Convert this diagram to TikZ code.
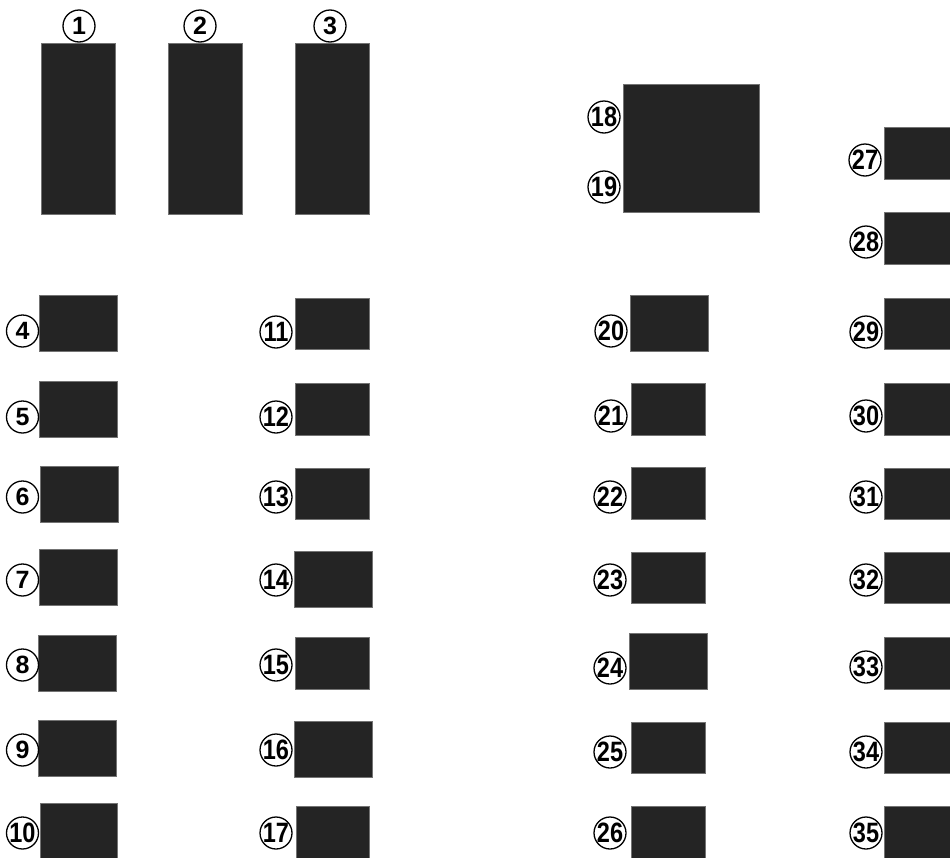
\documentclass[tikz,border=0pt]{standalone}
\usepackage{graphicx}
\usepackage{fontspec}
\setmainfont{Liberation Sans}
\tikzset{
  blk/.style={fill=black!86, draw=black!55, line width=0.6pt, inner sep=0pt, outer sep=0pt, rectangle},
  num/.style={circle, draw=black, fill=white, line width=1.3pt, minimum size=32pt, inner sep=0pt,
              font=\fontsize{25}{25}\selectfont\bfseries}
}
\newcommand\blkbox[5]{\node[blk, minimum width={#4pt-#2pt}, minimum height={#5pt-#3pt}] (#1) at ({(#2+#4)/2},{(#3+#5)/2}) {};}
\newcommand\numc[3]{\node[num] (c#1) at (#2,#3) {\ifnum#1>9 \scalebox{0.84}[1]{\fontsize{28}{28}\selectfont\bfseries\kern-1pt#1\kern-1pt}\else #1\fi};}
\begin{document}
\begin{tikzpicture}[x=1pt,y=-1pt]
\useasboundingbox (0,0) rectangle (950,857);
% top tall boxes
\blkbox{r1}{41}{43}{115}{214}
\blkbox{r2}{168}{43}{242}{214}
\blkbox{r3}{295}{43}{369}{214}
% column A
\blkbox{r4}{39}{295}{117}{351}
\blkbox{r5}{39}{381}{117}{437}
\blkbox{r6}{40}{466}{118}{522}
\blkbox{r7}{39}{549}{117}{605}
\blkbox{r8}{38}{635}{116}{691}
\blkbox{r9}{38}{720}{116}{776}
\blkbox{r10}{40}{803}{117}{858}
% column B
\blkbox{r11}{295}{298}{369}{349}
\blkbox{r12}{295}{383}{369}{435}
\blkbox{r13}{295}{468}{369}{519}
\blkbox{r14}{294}{551}{372}{607}
\blkbox{r15}{295}{637}{369}{689}
\blkbox{r16}{294}{721}{372}{777}
\blkbox{r17}{296}{806}{369}{858}
% column C
\blkbox{r18}{623}{84}{759}{212}
\blkbox{r20}{630}{295}{708}{351}
\blkbox{r21}{631}{383}{705}{435}
\blkbox{r22}{631}{467}{705}{519}
\blkbox{r23}{631}{552}{705}{603}
\blkbox{r24}{629}{633}{707}{689}
\blkbox{r25}{631}{722}{705}{773}
\blkbox{r26}{631}{806}{705}{858}
% column D
\blkbox{r27}{884}{127}{952}{179}
\blkbox{r28}{884}{212}{952}{264}
\blkbox{r29}{884}{298}{952}{349}
\blkbox{r30}{884}{383}{952}{435}
\blkbox{r31}{884}{468}{952}{519}
\blkbox{r32}{884}{552}{952}{603}
\blkbox{r33}{884}{637}{952}{689}
\blkbox{r34}{884}{722}{952}{773}
\blkbox{r35}{884}{806}{952}{858}
% circled numbers
\numc{1}{79}{26}
\numc{2}{200}{26}
\numc{3}{330}{26}
\numc{4}{22.5}{331}
\numc{5}{22.5}{417}
\numc{6}{22.5}{497}
\numc{7}{22.5}{580}
\numc{8}{22.5}{665}
\numc{9}{22.5}{750}
\numc{10}{22.5}{833}
\numc{11}{276}{332}
\numc{12}{276}{417}
\numc{13}{276}{497}
\numc{14}{276}{580}
\numc{15}{276}{665}
\numc{16}{276}{750}
\numc{17}{276}{833}
\numc{18}{604}{117}
\numc{19}{604}{187}
\numc{20}{611}{331}
\numc{21}{611}{416}
\numc{22}{610}{497}
\numc{23}{610}{580}
\numc{24}{610}{668}
\numc{25}{610}{752}
\numc{26}{610}{833}
\numc{27}{865}{160}
\numc{28}{866}{242}
\numc{29}{866}{332}
\numc{30}{866}{416}
\numc{31}{866}{497}
\numc{32}{866}{580}
\numc{33}{866}{667}
\numc{34}{866}{752}
\numc{35}{866}{833}
\end{tikzpicture}
\end{document}
